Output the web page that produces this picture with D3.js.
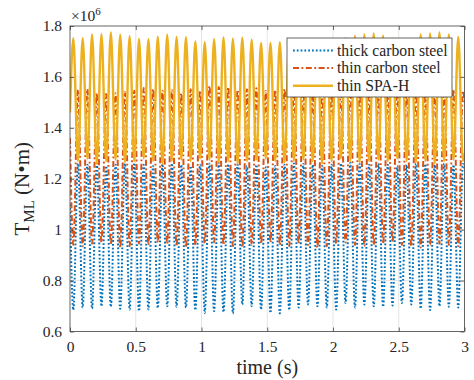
<!DOCTYPE html>
<html>
<head>
<meta charset="utf-8">
<script src="https://cdn.jsdelivr.net/npm/d3@7"></script>
<style>
  body { margin: 0; background: #fff; }
  svg text { font-family: "Liberation Serif", "Times New Roman", serif; fill: #262626; }
</style>
</head>
<body>
<div id="chart"></div>
<script>
// time layout of the oscillation (s)
const firstPeak = 0.025;
const period = 0.0714;

const xTicks = [0, 0.5, 1, 1.5, 2, 2.5, 3];
const yTicks = [0.6, 0.8, 1, 1.2, 1.4, 1.6, 1.8];
const seriesNames = ['thick carbon steel', 'thin carbon steel', 'thin SPA-H'];

// values in units of 10^6 N·m, one per cycle
const yellowPeaks = [1.752,1.752,1.767,1.768,1.775,1.766,1.760,1.749,1.748,1.758,
  1.766,1.757,1.756,1.739,1.736,1.748,1.755,1.750,1.754,1.746,
  1.733,1.733,1.736,1.740,1.745,1.742,1.738,1.744,1.748,1.752,
  1.761,1.767,1.771,1.762,1.750,1.745,1.748,1.767,1.771,1.775,1.767,1.757];
const yellowTroughs = [1.27,1.28,1.26,1.27,1.275,1.265,1.27,1.28,1.27,1.26,
  1.27,1.275,1.27,1.28,1.275,1.265,1.27,1.26,1.27,1.275,
  1.28,1.27,1.265,1.27,1.275,1.27,1.26,1.27,1.28,1.27,
  1.265,1.27,1.275,1.27,1.28,1.27,1.265,1.27,1.26,1.27,1.275,1.27];
const orangePeaks = [1.549,1.552,1.536,1.533,1.536,1.542,1.546,1.556,1.552,1.546,
  1.549,1.536,1.552,1.546,1.565,1.560,1.560,1.549,1.552,1.555,
  1.545,1.548,1.552,1.556,1.548,1.540,1.545,1.550,1.556,1.560,
  1.552,1.548,1.545,1.550,1.555,1.548,1.540,1.545,1.552,1.548,1.550,1.545];
const orangeTroughs = [0.94,0.935,0.945,0.95,0.94,0.93,0.935,0.945,0.94,0.95,
  0.945,0.935,0.93,0.94,0.945,0.95,0.94,0.935,0.93,0.94,
  0.945,0.95,0.94,0.935,0.945,0.94,0.93,0.935,0.945,0.95,
  0.94,0.935,0.94,0.945,0.95,0.94,0.935,0.93,0.94,0.945,0.94,0.935];
const bluePeaks = [1.26,1.255,1.26,1.25,1.255,1.26,1.262,1.255,1.25,1.258,
  1.26,1.255,1.25,1.255,1.26,1.262,1.258,1.255,1.25,1.255,
  1.245,1.25,1.255,1.26,1.258,1.255,1.25,1.255,1.26,1.262,
  1.258,1.255,1.26,1.255,1.25,1.255,1.26,1.258,1.255,1.26,1.255,1.258];
const blueTroughs = [0.684,0.694,0.690,0.699,0.697,0.689,0.686,0.680,0.686,0.692,
  0.699,0.697,0.694,0.684,0.673,0.680,0.676,0.671,0.706,0.699,
  0.686,0.673,0.671,0.684,0.694,0.706,0.699,0.694,0.686,0.712,
  0.694,0.706,0.699,0.697,0.702,0.712,0.706,0.690,0.684,0.699,0.697,0.694];

// values at the two ends of the record
const yellowEnds = [1.46, 1.30];
const orangeEnds = [1.36, 1.50];
const blueEnds = [1.10, 1.24];

const width = 474, height = 380;
const margin = { top: 26, right: 9.5, bottom: 48.5, left: 70 };
const innerW = width - margin.left - margin.right;
const innerH = height - margin.top - margin.bottom;
const serif = '"Liberation Serif", "Times New Roman", Times, serif';

const svg = d3.select('#chart').append('svg')
  .attr('width', width)
  .attr('height', height)
  .attr('font-family', serif);

const g = svg.append('g')
  .attr('transform', `translate(${margin.left},${margin.top})`);

const x = d3.scaleLinear().domain([0, 3]).range([0, innerW]);
const y = d3.scaleLinear().domain([0.6, 1.8]).range([innerH, 0]);

// build alternating extreme points for each series
function buildSeries(ends, highs, lows, peakFirst) {
  const pts = [[0, ends[0]]];
  highs.forEach((h, k) => {
    const t = firstPeak + k * period;
    if (peakFirst) {
      pts.push([t, h], [t + period / 2, lows[k]]);
    } else {
      pts.push([t, lows[k]], [t + period / 2, h]);
    }
  });
  pts.push([3, ends[1]]);
  return pts;
}

const series = [
  { name: seriesNames[0], color: '#0072BD', width: 2, dash: '1.8,2', data: buildSeries(blueEnds, bluePeaks, blueTroughs, false) },
  { name: seriesNames[1], color: '#D95319', width: 2, dash: '6,2.5,1.8,2.5', data: buildSeries(orangeEnds, orangePeaks, orangeTroughs, false) },
  { name: seriesNames[2], color: '#EDB120', width: 2.4, dash: null, data: buildSeries(yellowEnds, yellowPeaks, yellowTroughs, true) }
];

// grid
g.append('g').selectAll('line')
  .data(xTicks.slice(1, -1))
  .enter().append('line')
  .attr('x1', d => x(d)).attr('x2', d => x(d))
  .attr('y1', 0).attr('y2', innerH)
  .attr('stroke', '#dedede').attr('stroke-width', 0.8);
g.append('g').selectAll('line')
  .data(yTicks.slice(1, -1))
  .enter().append('line')
  .attr('x1', 0).attr('x2', innerW)
  .attr('y1', d => y(d)).attr('y2', d => y(d))
  .attr('stroke', '#dedede').attr('stroke-width', 0.8);

// clip
svg.append('defs').append('clipPath').attr('id', 'clip')
  .append('rect').attr('width', innerW).attr('height', innerH);

const line = d3.line()
  .x(d => x(d[0]))
  .y(d => y(d[1]))
  .curve(d3.curveMonotoneX);

const plot = g.append('g').attr('clip-path', 'url(#clip)');
series.forEach(s => {
  plot.append('path')
    .datum(s.data)
    .attr('fill', 'none')
    .attr('stroke', s.color)
    .attr('stroke-width', s.width)
    .attr('stroke-dasharray', s.dash)
    .attr('d', line);
});

// axes (ticks inside, on all four sides)
const tickLen = 4;
const axisColor = '#404040';
const fmt = d => String(+d.toFixed(1));

function styleAxis(a) {
  a.attr('font-family', serif).attr('font-size', 15.5);
  a.select('.domain').remove();
}

g.append('g')
  .attr('transform', `translate(0,${innerH})`)
  .call(d3.axisBottom(x).tickValues(xTicks).tickSize(-tickLen).tickPadding(9).tickFormat(fmt))
  .call(styleAxis);
g.append('g')
  .call(d3.axisTop(x).tickValues(xTicks).tickSize(-tickLen).tickFormat(''))
  .call(styleAxis);
g.append('g')
  .call(d3.axisLeft(y).tickValues(yTicks).tickSize(-tickLen).tickPadding(8).tickFormat(fmt))
  .call(styleAxis);
g.append('g')
  .attr('transform', `translate(${innerW},0)`)
  .call(d3.axisRight(y).tickValues(yTicks).tickSize(-tickLen).tickFormat(''))
  .call(styleAxis);

g.selectAll('.tick line').attr('stroke', axisColor).attr('stroke-width', 0.8);
g.selectAll('.tick text').attr('fill', '#262626');

g.append('rect')
  .attr('width', innerW).attr('height', innerH)
  .attr('fill', 'none')
  .attr('stroke', axisColor).attr('stroke-width', 0.8);

// exponent label
const expo = svg.append('text')
  .attr('x', margin.left + 1)
  .attr('y', 21)
  .attr('font-size', 15.5);
expo.append('tspan').text('×10');
expo.append('tspan').attr('font-size', 11).attr('dy', -6).text('6');

// axis labels
svg.append('text')
  .attr('x', margin.left + innerW / 2)
  .attr('y', 374)
  .attr('text-anchor', 'middle')
  .attr('font-size', 20)
  .text('time (s)');

const yl = svg.append('text')
  .attr('transform', `translate(29,${margin.top + innerH / 2 + 10}) rotate(-90)`)
  .attr('text-anchor', 'middle')
  .attr('font-size', 21);
yl.append('tspan').text('T');
yl.append('tspan').attr('font-size', 15).attr('dy', 5).text('ML');
yl.append('tspan').attr('dy', -5).text(' (N•m)');

// legend
const leg = svg.append('g').attr('transform', 'translate(287,38)');
leg.append('rect')
  .attr('width', 165).attr('height', 59)
  .attr('fill', '#fff')
  .attr('stroke', axisColor).attr('stroke-width', 0.8);
series.forEach((s, i) => {
  const ly = 12.5 + i * 17.6;
  leg.append('line')
    .attr('x1', 6).attr('x2', 46)
    .attr('y1', ly).attr('y2', ly)
    .attr('stroke', s.color)
    .attr('stroke-width', s.width)
    .attr('stroke-dasharray', s.dash);
  leg.append('text')
    .attr('x', 50).attr('y', ly)
    .attr('dy', '0.33em')
    .attr('font-size', 15.7)
    .text(s.name);
});
</script>
</body>
</html>
